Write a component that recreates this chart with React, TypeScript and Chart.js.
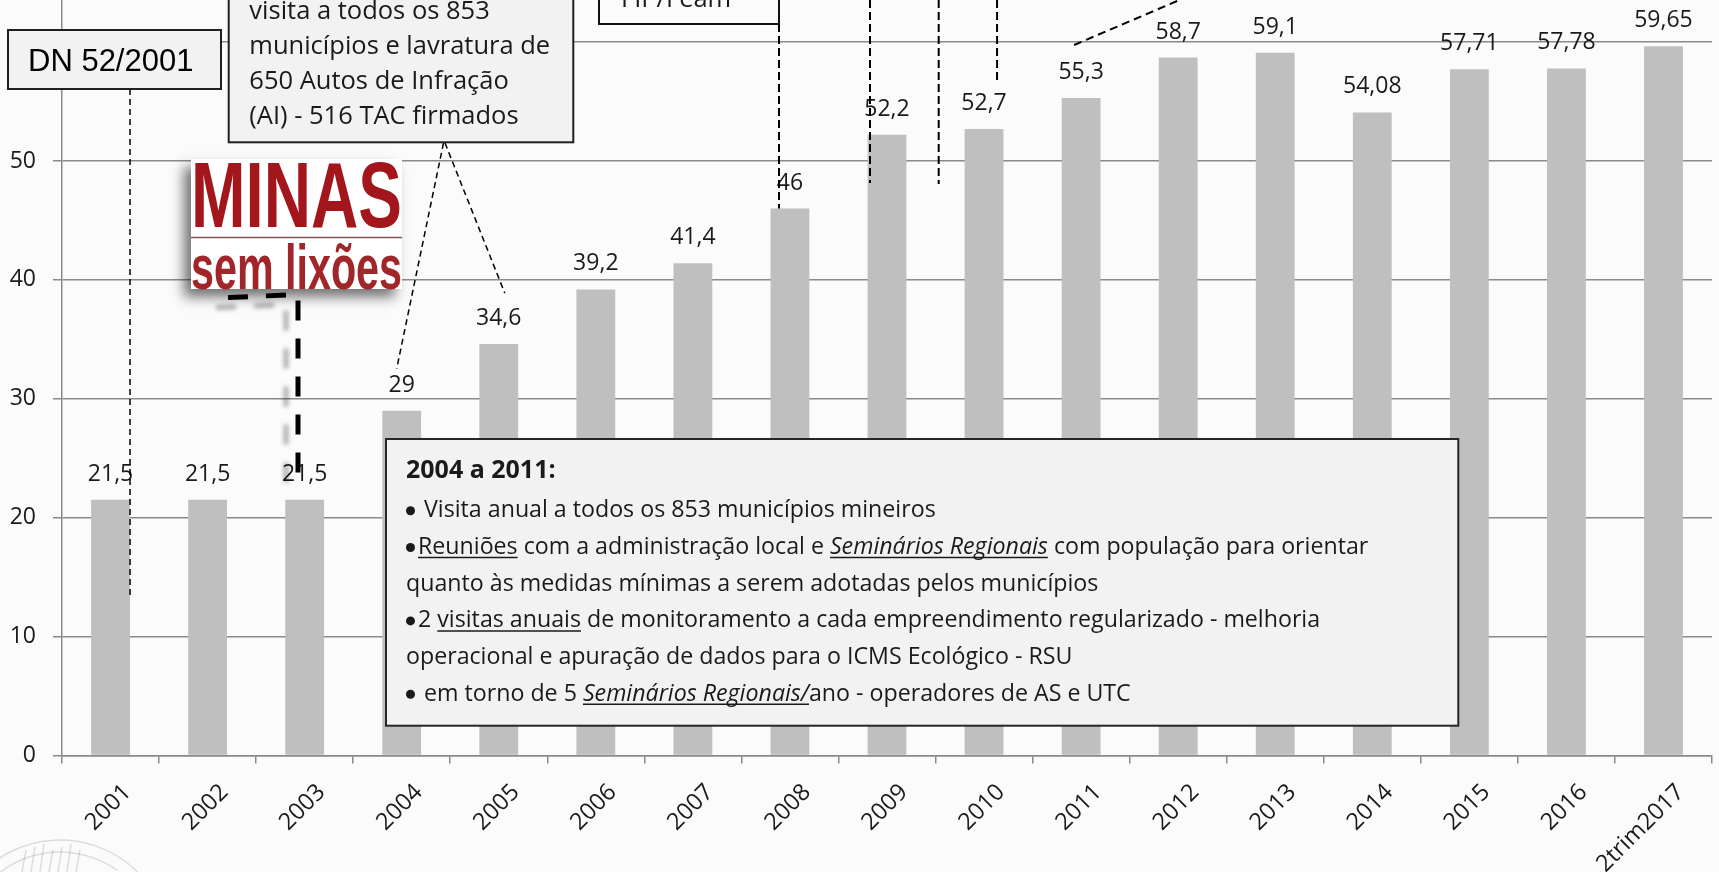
import React, { useEffect, useRef } from "react";
import { Chart, registerables } from "chart.js";

Chart.register(...registerables);

// ---------- data ----------
const categories = [
  "2001", "2002", "2003", "2004", "2005", "2006", "2007", "2008", "2009",
  "2010", "2011", "2012", "2013", "2014", "2015", "2016", "2trim2017",
];
const values = [
  21.5, 21.5, 21.5, 29, 34.6, 39.2, 41.4, 46, 52.2, 52.7, 55.3, 58.7, 59.1,
  54.08, 57.71, 57.78, 59.65,
];
const yTicks = [0, 10, 20, 30, 40, 50, 60];
const yMax = 63.54;

const dnLabel = "DN 52/2001";
const topBoxLines = [
  "visita a todos os 853",
  "municípios e lavratura de",
  "650 Autos de Infração",
  "(AI) - 516 TAC firmados",
];
const feamLabel = "FIP/Feam";
const logoTop = "MINAS";
const logoBottom = "sem lixões";
const bigBoxTitle = "2004 a 2011:";
type Seg = { t: string; i?: boolean; u?: boolean; b?: boolean };
const bigBoxLines: Seg[][] = [
  [{ t: "•", b: true }, { t: " Visita anual a todos os 853 municípios mineiros" }],
  [
    { t: "•", b: true },
    { t: "Reuniões", u: true },
    { t: " com a administração local e " },
    { t: "Seminários Regionais", i: true, u: true },
    { t: " com população para orientar" },
  ],
  [{ t: "quanto às medidas mínimas a serem adotadas pelos municípios" }],
  [
    { t: "•", b: true },
    { t: "2 " },
    { t: "visitas anuais", u: true },
    { t: " de monitoramento a cada empreendimento regularizado - melhoria" },
  ],
  [{ t: "operacional e apuração de dados para o ICMS Ecológico - RSU" }],
  [
    { t: "•", b: true },
    { t: " em torno de 5 " },
    { t: "Seminários Regionais/", i: true, u: true },
    { t: "ano - operadores de AS e UTC" },
  ],
];

// ---------- styles ----------
const GRID = "#8a8a8a";
const TXT = "#1a1a1a";
const BAR = "#bfbfbf";
const BG = "#fbfbfb";
const FONT = '"Open Sans", "Noto Sans", sans-serif';

const fmt = (v: number) => String(v).replace(".", ",");

function dashed(
  ctx: CanvasRenderingContext2D,
  pts: number[][],
  lw: number,
  dash: number[],
  color = "#000"
) {
  ctx.save();
  ctx.strokeStyle = color;
  ctx.lineWidth = lw;
  ctx.setLineDash(dash);
  ctx.beginPath();
  ctx.moveTo(pts[0][0], pts[0][1]);
  for (let k = 1; k < pts.length; k++) ctx.lineTo(pts[k][0], pts[k][1]);
  ctx.stroke();
  ctx.restore();
}

function rectBox(
  ctx: CanvasRenderingContext2D,
  x: number,
  y: number,
  w: number,
  h: number,
  fill: string,
  stroke = "#1f1f1f",
  lw = 2
) {
  ctx.save();
  ctx.fillStyle = fill;
  ctx.fillRect(x, y, w, h);
  ctx.strokeStyle = stroke;
  ctx.lineWidth = lw;
  ctx.strokeRect(x, y, w, h);
  ctx.restore();
}

const bgPlugin = {
  id: "bgFill",
  beforeDraw(c: any) {
    const ctx = c.ctx;
    ctx.save();
    ctx.fillStyle = BG;
    ctx.fillRect(0, 0, c.width, c.height);
    ctx.restore();
  },
};

const labelPlugin = {
  id: "valueLabels",
  afterDatasetsDraw(c: any) {
    const ctx = c.ctx;
    const meta = c.getDatasetMeta(0);
    ctx.save();
    ctx.font = `23px ${FONT}`;
    ctx.fillStyle = TXT;
    ctx.textAlign = "center";
    ctx.textBaseline = "alphabetic";
    meta.data.forEach((bar: any, i: number) => {
      ctx.fillText(fmt(values[i]), bar.x, bar.y - 19);
    });
    ctx.restore();
  },
};

const annotationPlugin = {
  id: "annotations",
  afterDraw(c: any) {
    const ctx: CanvasRenderingContext2D = c.ctx;
    const xs = c.scales.x;
    const ys = c.scales.y;
    const barX = (i: number) => xs.getPixelForValue(i);
    const barTop = (i: number) => ys.getPixelForValue(values[i]);

    // faint watermark bottom-left
    ctx.save();
    ctx.strokeStyle = "rgba(0,0,0,0.12)";
    ctx.lineWidth = 1.5;
    ctx.beginPath();
    ctx.arc(60, 950, 110, Math.PI * 1.1, Math.PI * 1.75);
    ctx.stroke();
    ctx.beginPath();
    ctx.arc(60, 950, 98, Math.PI * 1.15, Math.PI * 1.7);
    ctx.stroke();
    for (let k = 0; k < 7; k++) {
      ctx.beginPath();
      ctx.moveTo(22 + k * 9, 872);
      ctx.lineTo(26 + k * 9, 850 - (k % 3) * 3);
      ctx.stroke();
    }
    ctx.restore();

    // DN 52/2001 box + leader
    dashed(ctx, [[barX(0) + 19.5, 89], [barX(0) + 19.5, 598]], 1.5, [6, 4]);
    rectBox(ctx, 8, 30, 213, 59, "#f2f2f2");
    ctx.save();
    ctx.font = '31px "Liberation Sans", Arial, sans-serif';
    ctx.fillStyle = "#000";
    ctx.textBaseline = "alphabetic";
    ctx.fillText(dnLabel, 28, 71);
    ctx.restore();

    // top box (visita a todos ...) + leaders
    dashed(ctx, [[443.5, 143], [barX(3) - 5, barTop(3) - 42]], 1.5, [6, 4]);
    dashed(ctx, [[445, 143], [barX(4) + 6, barTop(4) - 51]], 1.5, [6, 4]);
    rectBox(ctx, 228.7, -80, 344.6, 222.3, "#f2f2f2");
    ctx.save();
    ctx.font = `25.5px ${FONT}`;
    ctx.fillStyle = TXT;
    topBoxLines.forEach((l, k) => ctx.fillText(l, 249.3, 18.5 + 35 * k));
    ctx.restore();

    // FIP/Feam box + leader to 2008 bar
    rectBox(ctx, 599, -60, 180, 84, BG, "#111", 2);
    ctx.save();
    ctx.font = `25.5px ${FONT}`;
    ctx.fillStyle = TXT;
    ctx.fillText(feamLabel, 621, 6.5);
    ctx.restore();
    dashed(ctx, [[779, 24], [779, barTop(7)]], 2, [8, 4]);

    // leaders coming from boxes above the picture
    dashed(ctx, [[barX(8) - 17, 0], [barX(8) - 17, 183]], 2, [8, 4]);
    dashed(ctx, [[938.7, 0], [938.7, 184]], 2, [8, 4]);
    dashed(ctx, [[barX(9) + 13, 0], [barX(9) + 13, 82]], 2, [8, 4]);
    dashed(ctx, [[barX(10) - 7, 45], [1285, -45]], 2, [8, 5]);

    // MINAS sem lixões logo
    const lx = 191, ly = 159, lw = 211, lh = 130;
    ctx.save();
    ctx.shadowColor = "rgba(0,0,0,0.55)";
    ctx.shadowBlur = 12;
    ctx.shadowOffsetX = -7;
    ctx.shadowOffsetY = 8;
    ctx.fillStyle = "#ffffff";
    ctx.fillRect(lx, ly, lw, lh);
    ctx.restore();
    ctx.save();
    ctx.font = 'bold 92px "Liberation Sans", Arial, sans-serif';
    ctx.fillStyle = "#a3161b";
    let w = ctx.measureText(logoTop).width;
    ctx.translate(lx, 227);
    ctx.scale(lw / w, 1);
    ctx.fillText(logoTop, 0, 0);
    ctx.restore();
    ctx.save();
    ctx.strokeStyle = "#7d5555";
    ctx.lineWidth = 1.5;
    ctx.beginPath();
    ctx.moveTo(lx, 237.5);
    ctx.lineTo(lx + lw, 237.5);
    ctx.stroke();
    ctx.font = 'bold 63px "Liberation Sans", Arial, sans-serif';
    ctx.fillStyle = "#a1262a";
    w = ctx.measureText(logoBottom).width;
    ctx.translate(lx, 289);
    ctx.scale(lw / w, 1);
    ctx.fillText(logoBottom, 0, 0);
    ctx.restore();

    // thick dashed elbow under logo
    ctx.save();
    ctx.strokeStyle = "#000";
    ctx.lineWidth = 5;
    ctx.setLineDash([20, 18]);
    ctx.shadowColor = "rgba(0,0,0,0.3)";
    ctx.shadowBlur = 4;
    ctx.shadowOffsetX = -12;
    ctx.shadowOffsetY = 10;
    ctx.beginPath();
    ctx.moveTo(228, 297.5);
    ctx.lineTo(298, 294.5);
    ctx.lineTo(298, 490);
    ctx.stroke();
    ctx.restore();

    // big box 2004 a 2011
    rectBox(ctx, 386, 439, 1072.3, 286.7, "#f2f2f2", "#262626", 2);
    ctx.save();
    ctx.fillStyle = TXT;
    ctx.font = `bold 25px ${FONT}`;
    ctx.fillText(bigBoxTitle, 406, 478.3);
    bigBoxLines.forEach((segs, k) => {
      let x = 406;
      const y = 517.3 + 36.7 * k;
      segs.forEach((s) => {
        if (s.b) {
          ctx.beginPath();
          ctx.arc(x + 4.5, y - 6.5, 4.5, 0, Math.PI * 2);
          ctx.fill();
          x += 12;
          return;
        }
        ctx.font = `${s.i ? "italic " : ""}23.2px ${FONT}`;
        const sw = ctx.measureText(s.t).width;
        ctx.fillText(s.t, x, y);
        if (s.u) {
          ctx.save();
          ctx.strokeStyle = TXT;
          ctx.lineWidth = 1.5;
          ctx.beginPath();
          ctx.moveTo(x, y + 3.5);
          ctx.lineTo(x + sw, y + 3.5);
          ctx.stroke();
          ctx.restore();
        }
        x += sw;
      });
    });
    ctx.restore();
  },
};

export default function App() {
  const ref = useRef<HTMLCanvasElement>(null);
  useEffect(() => {
    document.body.style.margin = "0";
    document.body.style.background = BG;
    const canvas = ref.current!;
    const chart = new Chart(canvas, {
      type: "bar",
      data: {
        labels: categories,
        datasets: [
          {
            data: values,
            backgroundColor: BAR,
            barPercentage: 0.4,
            categoryPercentage: 1,
          },
        ],
      },
      options: {
        responsive: false,
        maintainAspectRatio: false,
        animation: false,
        devicePixelRatio: 1,
        layout: { padding: { left: 0, right: 7, top: 0, bottom: 0 } },
        plugins: { legend: { display: false }, tooltip: { enabled: false } },
        scales: {
          x: {
            grid: {
              offset: true,
              drawOnChartArea: false,
              drawTicks: true,
              tickLength: 8,
              color: GRID,
              lineWidth: 1.5,
            },
            border: { color: GRID, width: 1.5, z: 1 },
            ticks: {
              autoSkip: false,
              maxRotation: 45,
              minRotation: 45,
              padding: 15,
              labelOffset: 17,
              color: TXT,
              font: { family: FONT, size: 23.5 },
            },
            afterFit: (s: any) => {
              s.height = 116.5;
              s.paddingLeft = 0;
              s.paddingRight = 0;
            },
          },
          y: {
            min: 0,
            max: yMax,
            grid: { color: GRID, lineWidth: 1.5, tickLength: 9 },
            border: { color: GRID, width: 1.5 },
            ticks: {
              padding: 17,
              color: TXT,
              font: { family: FONT, size: 23 },
            },
            afterBuildTicks: (s: any) => {
              s.ticks = yTicks.map((v) => ({ value: v }));
            },
            afterFit: (s: any) => {
              s.width = 62;
              s.paddingTop = 0;
              s.paddingBottom = 0;
            },
          },
        },
      },
      plugins: [bgPlugin, labelPlugin, annotationPlugin],
    } as any);
    return () => chart.destroy();
  }, []);
  return (
    <canvas
      ref={ref}
      width={1719}
      height={872}
      style={{ display: "block", width: 1719, height: 872 }}
    />
  );
}
